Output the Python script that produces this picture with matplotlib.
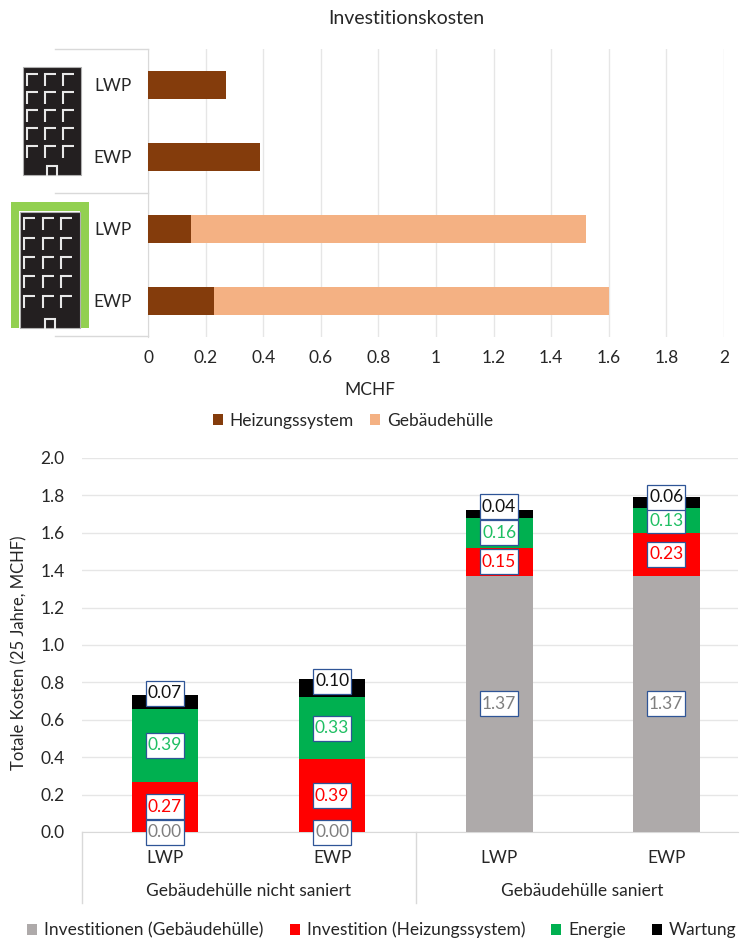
import matplotlib

matplotlib.use("Agg")
import matplotlib.pyplot as plt
from matplotlib.patches import Rectangle

plt.rcParams["font.family"] = ["Lato", "DejaVu Sans"]

W, H = 743, 940
FS = 12.5

# investment chart, top to bottom
inv_labels = ["LWP", "EWP", "LWP", "EWP"]
inv_heating = [0.27, 0.39, 0.15, 0.23]
inv_envelope = [0.0, 0.0, 1.37, 1.37]
inv_ticks = [0, 0.2, 0.4, 0.6, 0.8, 1, 1.2, 1.4, 1.6, 1.8, 2]
inv_ticklabels = ["0", "0.2", "0.4", "0.6", "0.8", "1", "1.2", "1.4", "1.6", "1.8", "2"]

# total cost chart, left to right
tot_labels = ["LWP", "EWP", "LWP", "EWP"]
tot_groups = ["Gebäudehülle nicht saniert", "Gebäudehülle saniert"]
tot_envelope = [0.0, 0.0, 1.37, 1.37]
tot_heating = [0.27, 0.39, 0.15, 0.23]
tot_energy = [0.39, 0.33, 0.16, 0.13]
tot_maintenance = [0.07, 0.10, 0.04, 0.06]

BROWN = "#843c0c"
PEACH = "#f4b183"
GREY = "#aeaaaa"
RED = "#ff0000"
GREEN = "#00b050"
GRID = "#e6e6e6"
AXIS = "#d9d9d9"
TEXT = "#262626"
BOX = "#2f5597"


def axes_px(fig, left, top, right, bottom):
    return fig.add_axes([left / W, 1 - bottom / H, (right - left) / W, (bottom - top) / H])


def building(ax, x0, x1, y0, y1, win_x, win_y):
    """Dark tower block with L-shaped windows and a small door."""
    ax.add_patch(Rectangle((x0, y0), x1 - x0, y1 - y0, fc="#231f20", ec="#b0b0b0", lw=0.8))
    for wy in win_y:
        for wx in win_x:
            ax.plot([wx, wx, wx + 11], [wy + 12, wy, wy], color="#e8e8e8", lw=1.5,
                    solid_joinstyle="miter", solid_capstyle="butt")
    mid = (x0 + x1) / 2
    ax.plot([mid - 5, mid - 5, mid + 5, mid + 5], [y1, y1 - 9, y1 - 9, y1],
            color="#e8e8e8", lw=1.5, solid_joinstyle="miter")


fig = plt.figure(figsize=(W / 100, H / 100), dpi=100)

# ---- investment costs -------------------------------------------------
ax = axes_px(fig, 148, 49, 724, 336.5)
pos = range(len(inv_labels))
ax.barh(pos, inv_heating, height=0.39, color=BROWN, label="Heizungssystem", zorder=3)
ax.barh(pos, inv_envelope, left=inv_heating, height=0.39, color=PEACH, label="Gebäudehülle", zorder=3)
ax.set_ylim(3.5, -0.5)
ax.set_xlim(0, 2)
ax.set_xticks(inv_ticks, inv_ticklabels, fontsize=FS, color=TEXT)
ax.set_yticks(list(pos), inv_labels, fontsize=FS, color=TEXT)
ax.grid(axis="x", color=GRID, lw=1, zorder=0)
ax.tick_params(length=0)
ax.tick_params(axis="x", pad=10)
ax.tick_params(axis="y", pad=12)
for s in ("top", "right", "bottom"):
    ax.spines[s].set_visible(False)
ax.spines["left"].set_color(AXIS)
ax.set_xlabel("MCHF", fontsize=FS, color=TEXT)
ax.xaxis.set_label_coords(0.385, -0.157)
ax.set_title("Investitionskosten", fontsize=14, color=TEXT, x=0.448, y=1.0, pad=18)
ax.legend(loc="center", bbox_to_anchor=(0.356, -0.293), ncol=2, frameon=False, fontsize=FS,
          labelcolor=TEXT, handlelength=0.58, handleheight=0.58, handletextpad=0.4, columnspacing=0.95)

# ---- total costs -------------------------------------------------------
ax2 = axes_px(fig, 81.5, 458, 738, 832)
x = range(len(tot_labels))
bottom = [0.0] * 4
segments = [
    (tot_envelope, GREY, "Investitionen (Gebäudehülle)", "#7f7f7f"),
    (tot_heating, RED, "Investition (Heizungssystem)", RED),
    (tot_energy, GREEN, "Energie", "#1fbf63"),
    (tot_maintenance, "black", "Wartung", "#111111"),
]
# data labels of the maintenance share sit near the top of the column
lift = {3: [0.048, 0.037, 0.039, 0.030]}
box_w, box_h = 38 / 167, 25 / 187
for k, (vals, col, name, txt) in enumerate(segments):
    ax2.bar(x, vals, width=0.4, bottom=bottom, color=col, label=name, zorder=3)
    for i, v in enumerate(vals):
        y = bottom[i] + v / 2 + lift.get(k, [0] * 4)[i]
        ax2.add_patch(Rectangle((i - box_w / 2, y - box_h / 2), box_w, box_h, fc="white", ec=BOX,
                                lw=0.9, zorder=4, clip_on=False))
        ax2.text(i, y, f"{v:.2f}", ha="center", va="center", fontsize=FS, color=txt, zorder=5)
    bottom = [b + v for b, v in zip(bottom, vals)]
ax2.set_xlim(-0.5, 3.43)
ax2.set_ylim(0, 2)
ax2.set_yticks([i / 5 for i in range(11)], [f"{i / 5:.1f}" for i in range(11)], fontsize=FS, color=TEXT)
ax2.set_xticks(list(x), tot_labels, fontsize=FS, color=TEXT)
ax2.grid(axis="y", color=GRID, lw=1, zorder=0)
ax2.tick_params(length=0)
ax2.tick_params(axis="x", pad=13)
ax2.tick_params(axis="y", pad=12)
for s in ("top", "right", "left"):
    ax2.spines[s].set_visible(False)
ax2.spines["bottom"].set_color(AXIS)
ax2.set_ylabel("Totale Kosten (25 Jahre, MCHF)", fontsize=12, color=TEXT)
ax2.yaxis.set_label_coords(-0.083, 0.48)
ax2.legend(loc="center", bbox_to_anchor=(300.5 / 656.5, -0.262), ncol=4, frameon=False, fontsize=FS,
           labelcolor=TEXT, handlelength=0.58, handleheight=0.58, handletextpad=0.4, columnspacing=1.5)

# ---- overlay in pixel coordinates: icons, category frames, group labels -
ov = fig.add_axes([0, 0, 1, 1], zorder=10)
ov.set_xlim(0, W)
ov.set_ylim(H, 0)
ov.axis("off")
ov.patch.set_alpha(0)

for yy in (49, 193, 336):
    ov.plot([55, 148], [yy, yy], color=AXIS, lw=1)
for xx in (81.5, 415.5):
    ov.plot([xx, xx], [832, 903], color=AXIS, lw=1)

building(ov, 23, 81, 67, 175, [27, 45, 63], [74, 92, 110, 128, 146])
ov.add_patch(Rectangle((11, 202), 78, 126, fc="#92d050", ec="none"))
ov.add_patch(Rectangle((19, 211), 61, 117, fc="white", ec="none"))
building(ov, 20, 80, 212, 328, [24, 43, 61], [218, 238, 257, 276, 296])

ov.text(248.5, 891, tot_groups[0], ha="center", va="center", fontsize=FS, color=TEXT)
ov.text(582.5, 891, tot_groups[1], ha="center", va="center", fontsize=FS, color=TEXT)

fig.savefig("out.png", dpi=100)
